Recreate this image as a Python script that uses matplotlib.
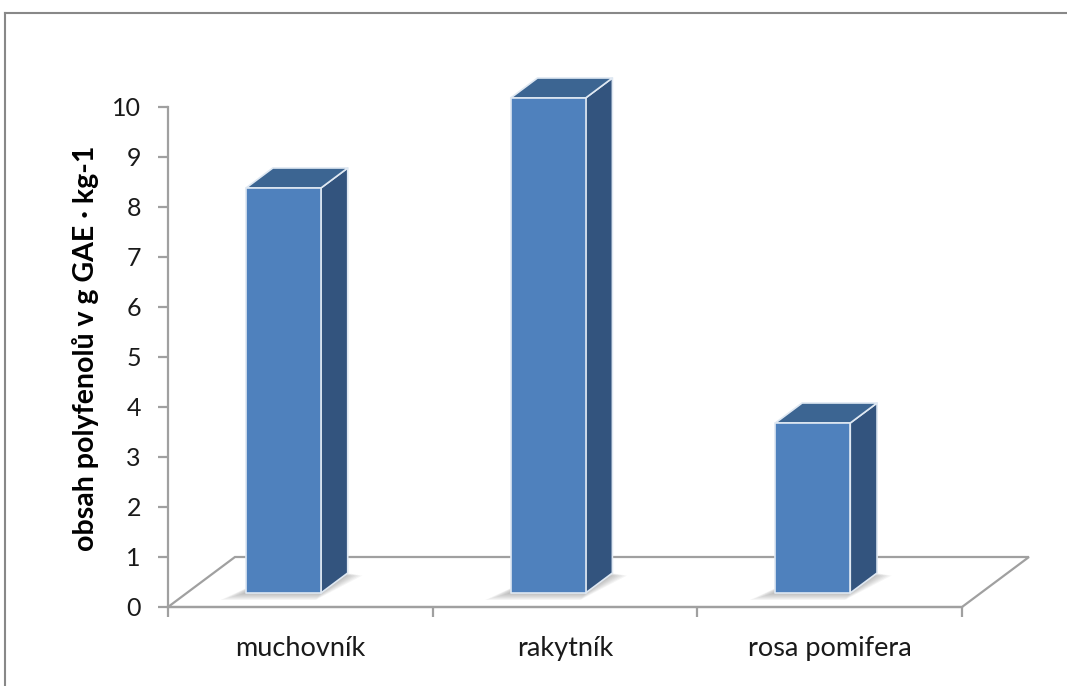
import matplotlib
matplotlib.use("Agg")
import matplotlib.pyplot as plt
from matplotlib.patches import Polygon
from matplotlib.lines import Line2D

categories = ["muchovník", "rakytník", "rosa pomifera"]
values = [8.1, 9.9, 3.4]
y_ticks = [0, 1, 2, 3, 4, 5, 6, 7, 8, 9, 10]
y_label = "obsah polyfenolů v g GAE · kg-1"

W, H = 1067, 686
fig = plt.figure(figsize=(W / 100, H / 100), dpi=100)
fig.patch.set_facecolor("white")

# axes region in pixels
L, R, B, T = 168, 962, 607, 107
ax = fig.add_axes([L / W, (H - B) / H, (R - L) / W, (B - T) / H])
ax.set_xlim(0, 3)
ax.set_ylim(0, 10)
ax.patch.set_alpha(0)

DX, DY = 0.253, 1.0  # depth offset (category units, value units)
PX = 3.0 / (R - L)    # one pixel in category units


def proj(x, v, d):
    return (x + d * DX, v + d * DY)


gray = "#a0a0a0"
# floor
floor = Polygon([proj(0, 0, 0), proj(3, 0, 0), proj(3, 0, 1), proj(0, 0, 1)],
                closed=True, facecolor="white", edgecolor=gray, lw=1.6,
                clip_on=False, zorder=1)
ax.add_patch(floor)

front_c, top_c, side_c = "#4F81BD", "#3C6592", "#33547E"
edge_c = "#dfe8f2"
w, d0, d1 = 0.283, 0.28, 0.68
for i, v in enumerate(values):
    x0 = i + 0.224
    # soft shadow on the floor
    n = 7
    for k in range(n):
        f = (n - k) / n
        sh = Polygon([proj(x0 - 16 * f * PX, 0, d0 - 0.14 * f),
                      proj(x0 + w + 4 * f * PX, 0, d0 - 0.14 * f),
                      proj(x0 + w + 18 * f * PX, 0, d1 - 0.05 * f),
                      proj(x0 + 4 * PX, 0, d1 - 0.05 * f)],
                     closed=True, facecolor="#505050", edgecolor="none", alpha=0.06,
                     clip_on=False, zorder=2)
        ax.add_patch(sh)
    front = [proj(x0, 0, d0), proj(x0 + w, 0, d0), proj(x0 + w, v, d0), proj(x0, v, d0)]
    side = [proj(x0 + w, 0, d0), proj(x0 + w, 0, d1), proj(x0 + w, v, d1), proj(x0 + w, v, d0)]
    top = [proj(x0, v, d0), proj(x0 + w, v, d0), proj(x0 + w, v, d1), proj(x0, v, d1)]
    for pts, c in ((side, side_c), (top, top_c), (front, front_c)):
        ax.add_patch(Polygon(pts, closed=True, facecolor=c, edgecolor=edge_c, lw=1.2,
                             joinstyle="round", clip_on=False, zorder=3))

# axes styling
for s in ("top", "right"):
    ax.spines[s].set_visible(False)
ax.spines["left"].set_color(gray)
ax.spines["left"].set_linewidth(1.6)
ax.spines["bottom"].set_color(gray)
ax.spines["bottom"].set_linewidth(1.6)
ax.set_yticks(y_ticks)
ax.set_yticklabels([str(t) for t in y_ticks])
ax.tick_params(axis="y", direction="out", length=7.5, width=1.6, color=gray,
               labelsize=18, pad=12, labelcolor="#1a1a1a")
ax.set_xticks([0.5, 1.5, 2.5])
ax.set_xticklabels(categories)
ax.set_xticks([0, 1, 2, 3], minor=True)
ax.tick_params(axis="x", which="major", length=0, labelsize=19.5, pad=21, labelcolor="#1a1a1a")
ax.tick_params(axis="x", which="minor", direction="out", length=7.5, width=1.6, color=gray)
for lab in ax.get_xticklabels() + ax.get_yticklabels():
    lab.set_fontfamily("Lato")

fig.text(86 / W, (H - 348) / H, y_label, rotation=90, ha="center", va="center",
         fontsize=20.5, fontweight="bold", fontfamily="Lato", color="black")

# outer frame
fig.add_artist(Line2D([5 / W, 5 / W], [0, (H - 13) / H], color="#888888", lw=1.5,
                      transform=fig.transFigure))
fig.add_artist(Line2D([5 / W, 1], [(H - 13) / H, (H - 13) / H], color="#888888", lw=1.5,
                      transform=fig.transFigure))

fig.savefig("out.png", dpi=100, facecolor="white")
